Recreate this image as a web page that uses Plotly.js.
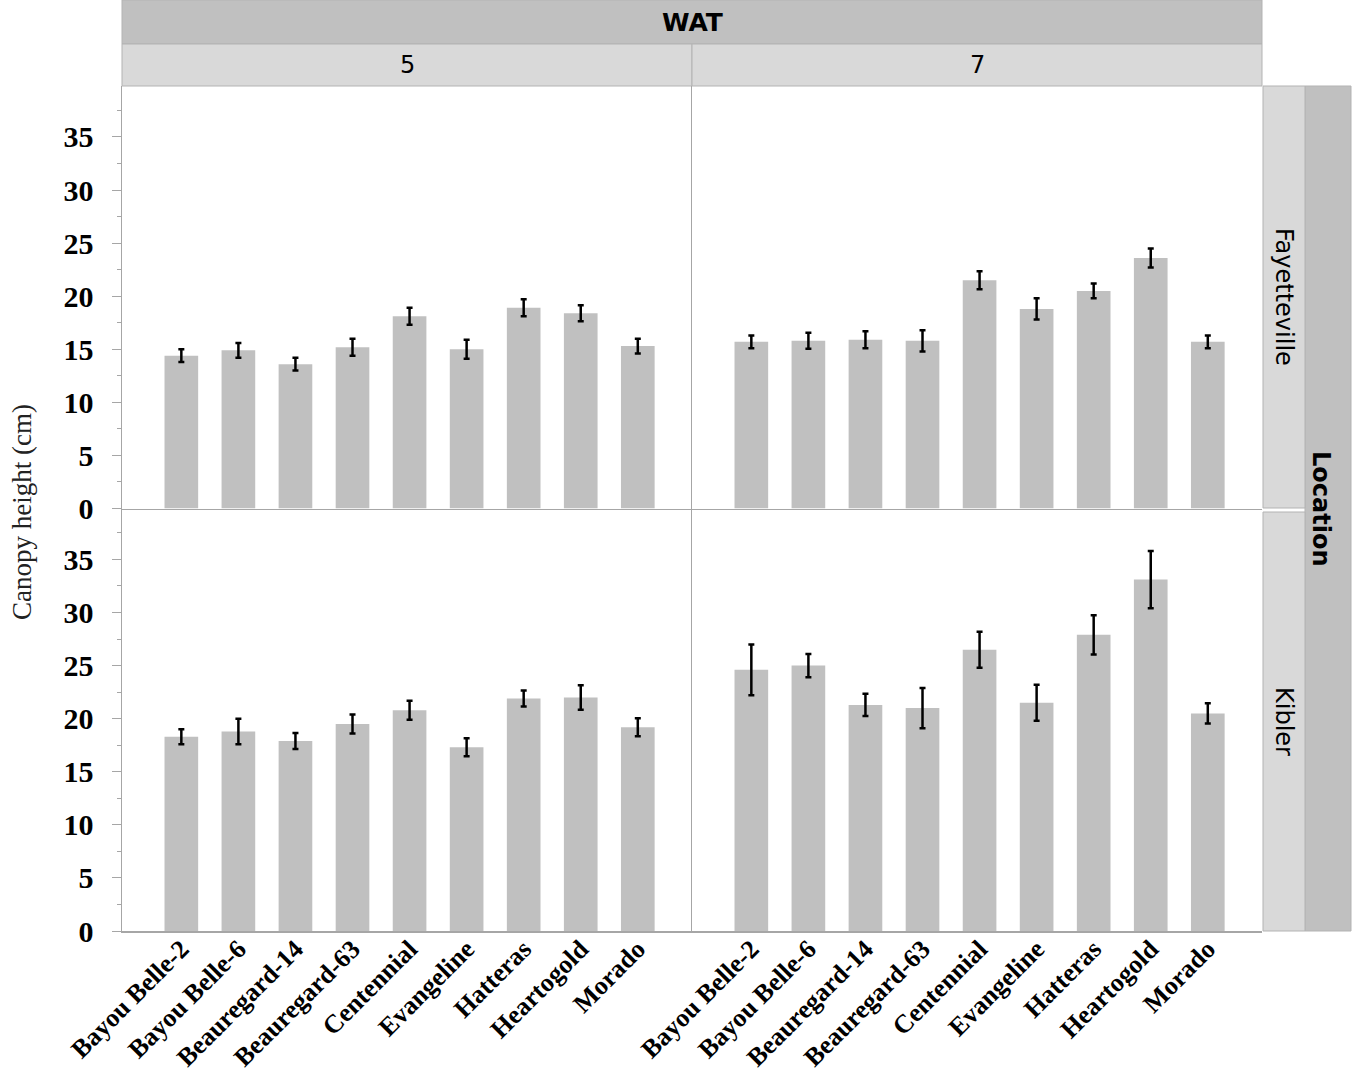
<!DOCTYPE html>
<html>
<head>
<meta charset="utf-8">
<script src="https://cdn.plot.ly/plotly-3.0.1.min.js"></script>
<style>
  html, body { margin: 0; padding: 0; background: #fff; }
  #chart { width: 1358px; height: 1077px; }
</style>
</head>
<body>
<div id="chart"></div>
<script>
// Canopy height by variety, WAT x Location ------------------------------------
const varieties = ['Bayou Belle-2', 'Bayou Belle-6', 'Beauregard-14', 'Beauregard-63',
    'Centennial', 'Evangeline', 'Hatteras', 'Heartogold', 'Morado'];

// Fayetteville
const fayWat5 = [14.4, 14.9, 13.6, 15.2, 18.1, 15.0, 18.9, 18.4, 15.3];
const fayWat5Err = [0.6, 0.7, 0.6, 0.8, 0.8, 0.9, 0.8, 0.75, 0.7];
const fayWat7 = [15.7, 15.8, 15.9, 15.8, 21.5, 18.8, 20.5, 23.6, 15.7];
const fayWat7Err = [0.6, 0.75, 0.8, 1.0, 0.85, 1.0, 0.7, 0.9, 0.6];
// Kibler
const kibWat5 = [18.3, 18.8, 17.9, 19.5, 20.8, 17.3, 21.9, 22.0, 19.2];
const kibWat5Err = [0.7, 1.2, 0.75, 0.9, 0.9, 0.85, 0.75, 1.15, 0.85];
const kibWat7 = [24.6, 25.0, 21.3, 21.0, 26.5, 21.5, 27.9, 33.1, 20.5];
const kibWat7Err = [2.4, 1.1, 1.05, 1.9, 1.7, 1.7, 1.85, 2.7, 0.95];

const watLevels = ['5', '7'];
const locations = ['Fayetteville', 'Kibler'];

const BAR = '#c0c0c0';
const LINE = '#a6a6a6';
const STRIP_DARK = '#c0c0c0';
const STRIP_LIGHT = '#d9d9d9';
const SERIF = '"Liberation Serif", "Times New Roman", serif';
const SANS = '"DejaVu Sans", Verdana, sans-serif';

function barTrace(y, err, xa, ya) {
    return {
        type: 'bar', x: varieties, y: y, xaxis: xa, yaxis: ya,
        width: 0.59, marker: { color: BAR, line: { width: 0 } },
        error_y: { type: 'data', array: err, visible: true, color: '#000', thickness: 2.5, width: 3 },
        hoverinfo: 'x+y', showlegend: false,
    };
}

const traces = [
    barTrace(fayWat5, fayWat5Err, 'x', 'y'),
    barTrace(fayWat7, fayWat7Err, 'x2', 'y2'),
    barTrace(kibWat5, kibWat5Err, 'x3', 'y3'),
    barTrace(kibWat7, kibWat7Err, 'x4', 'y4'),
];

const xRange = [-1.04, 8.95];
const yRange = [0, 39.8];

function xAxis(domain, anchor, labels) {
    return {
        domain: domain, anchor: anchor, type: 'category', range: xRange,
        showline: true, linecolor: LINE, linewidth: 1.5, ticks: '', showgrid: false, zeroline: false,
        showticklabels: labels, tickangle: -45, ticklabelstandoff: -9,
        tickfont: { family: SERIF, size: 26, color: '#000', weight: 'bold' },
        fixedrange: true,
    };
}

function yAxis(domain, anchor, labels) {
    const ax = {
        domain: domain, anchor: anchor, range: yRange,
        showline: true, linecolor: LINE, linewidth: 1.5, showgrid: false, zeroline: false,
        fixedrange: true,
    };
    if (labels) {
        Object.assign(ax, {
            ticks: 'outside', ticklen: 9, tickwidth: 1, tickcolor: LINE, dtick: 5, tick0: 0,
            tickfont: { family: SERIF, size: 30, color: '#000', weight: 'bold' },
            ticklabelstandoff: 12,
            minor: { ticks: 'outside', ticklen: 4, tickwidth: 1, tickcolor: LINE, dtick: 2.5, tick0: 0 },
        });
    } else {
        Object.assign(ax, { ticks: '', showticklabels: false });
    }
    return ax;
}

// pixel helpers for strips (plot area: x 122..1262, y 86..931)
const W = 1358, H = 1077, L = 122, R = 96, T = 86, B = 146;
const px = v => (v - L) / (W - L - R);
const py = v => (H - B - v) / (H - T - B);

function rect(x0, x1, y0, y1, fill) {
    return { type: 'rect', xref: 'paper', yref: 'paper', x0: px(x0), x1: px(x1), y0: py(y1), y1: py(y0),
        fillcolor: fill, line: { color: '#b3b3b3', width: 1 }, layer: 'below' };
}

const shapes = [
    rect(122, 1262, 0, 44, STRIP_DARK),
    rect(122, 692, 44, 86, STRIP_LIGHT),
    rect(692, 1262, 44, 86, STRIP_LIGHT),
    rect(1305, 1351, 86, 931, STRIP_DARK),
    rect(1263, 1305, 86, 508, STRIP_LIGHT),
    rect(1263, 1305, 512, 931, STRIP_LIGHT),
];

function label(text, x, y, size, bold, angle) {
    return { text: text, xref: 'paper', yref: 'paper', x: px(x), y: py(y), showarrow: false,
        xanchor: 'center', yanchor: 'middle', textangle: angle || 0,
        font: { family: SANS, size: size, color: '#000', weight: bold ? 'bold' : 'normal' } };
}

const annotations = [
    label('WAT', 692, 22, 25, true),
    label(watLevels[0], 407, 65, 24, false),
    label(watLevels[1], 977, 65, 24, false),
    label(locations[0], 1284, 297, 24, false, 90),
    label(locations[1], 1284, 721, 24, false, 90),
    label('Location', 1321, 508, 24, true, 90),
    { text: 'Canopy height (cm)', xref: 'paper', yref: 'paper', x: px(22), y: py(512), showarrow: false,
      xanchor: 'center', yanchor: 'middle', textangle: -90,
      font: { family: SERIF, size: 27, color: '#222' } },
];

const layout = {
    width: W, height: H,
    margin: { l: L, r: R, t: T, b: B, autoexpand: false },
    paper_bgcolor: '#fff', plot_bgcolor: '#fff',
    xaxis: xAxis([0, 0.5], 'y', false),
    xaxis2: xAxis([0.5, 1], 'y2', false),
    xaxis3: xAxis([0, 0.5], 'y3', true),
    xaxis4: xAxis([0.5, 1], 'y4', true),
    yaxis: yAxis([0.5, 1], 'x', true),
    yaxis2: yAxis([0.5, 1], 'x2', false),
    yaxis3: yAxis([0, 0.5], 'x3', true),
    yaxis4: yAxis([0, 0.5], 'x4', false),
    shapes: shapes,
    annotations: annotations,
    showlegend: false,
};

Plotly.newPlot('chart', traces, layout, { displayModeBar: false, staticPlot: true });
</script>
</body>
</html>
